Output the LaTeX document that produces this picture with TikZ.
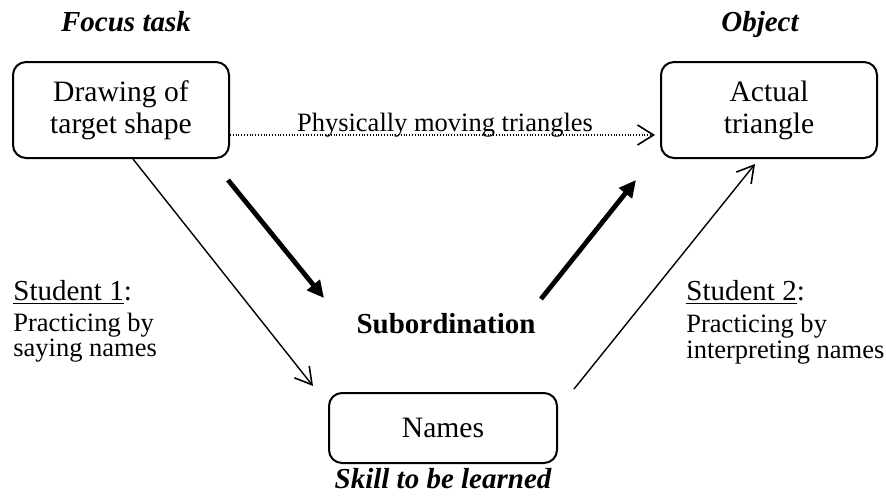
\documentclass[tikz,border=0pt]{standalone}
\usepackage{fontspec}
\setmainfont{Liberation Serif}
\usetikzlibrary{arrows.meta}
\begin{document}
\begin{tikzpicture}[x=0.5pt,y=-0.5pt,
  box/.style={draw,line width=1pt,rounded corners=6.5pt,align=center,inner sep=0pt,
    font=\fontsize{14.8}{16}\selectfont},
  big/.style={font=\fontsize{14.5}{16}\selectfont,inner sep=0pt},
  small/.style={font=\fontsize{13.25}{12.5}\selectfont,inner sep=0pt},
  head/.style={font=\fontsize{14.5}{16}\selectfont\bfseries\itshape,inner sep=0pt},
  thinarrow/.style={line width=0.7pt,-{Straight Barb[length=8.2pt,width=9.5pt,line width=0.8pt]}},
  thickarrow/.style={line width=2.4pt,-{Triangle[length=8.5pt,width=8pt]}},
  dotarrow/.style={line width=0.6pt,dash pattern=on 0.5pt off 0.9pt,
    -{Straight Barb[length=8pt,width=10pt,line width=0.8pt]}},
]
\useasboundingbox (0,0) rectangle (886,503);

% headings
\node[head,anchor=base] (hfocus) at (126,32) {Focus task};
\node[head,anchor=base] (hobject) at (760,32) {Object};
\node[head,anchor=base] (hskill) at (443,488) {Skill to be learned};

% boxes
\node[box,minimum width=108pt,minimum height=48pt] (b1) at (121,110) {Drawing of\\target shape};
\node[box,minimum width=108pt,minimum height=48pt] (b2) at (769,110) {Actual\\triangle};
\node[box,minimum width=114pt,minimum height=35pt] (b3) at (443,428) {Names};

% centre label
\node[big,font=\fontsize{14.5}{16}\selectfont\bfseries,anchor=base] (sub) at (446,333) {Subordination};

% student notes
\node[big,anchor=base west] (s1) at (13,300) {\underline{Student 1}:};
\node[small,anchor=base west] (s1a) at (13,331) {Practicing by};
\node[small,anchor=base west] (s1b) at (13,356) {saying names};
\node[big,anchor=base west] (s2) at (686,300) {\underline{Student 2}:};
\node[small,anchor=base west] (s2a) at (686,332) {Practicing by};
\node[small,anchor=base west] (s2b) at (686,358) {interpreting names};

% dotted connector with its label
\path (b1.east) ++(0,25) coordinate (dA);
\path (b2.west) ++(-5,25) coordinate (dB);
\draw[dotarrow] (dA) -- (dB);
\node[small,anchor=base] (phys) at (445,131) {Physically moving triangles};

% thin connectors
\path (b1.south) ++(12,0) coordinate (t1a);
\coordinate (t1b) at (313,386);
\draw[thinarrow] (t1a) -- (t1b);
\coordinate (t2a) at (574,389);
\path (b2.south) ++(-14,5) coordinate (t2b);
\draw[thinarrow] (t2a) -- (t2b);

% thick connectors
\coordinate (k1a) at (228,180);
\coordinate (k1b) at (324,298);
\draw[thickarrow] (k1a) -- (k1b);
\coordinate (k2a) at (541,299);
\coordinate (k2b) at (636,180);
\draw[thickarrow] (k2a) -- (k2b);
\end{tikzpicture}
\end{document}
